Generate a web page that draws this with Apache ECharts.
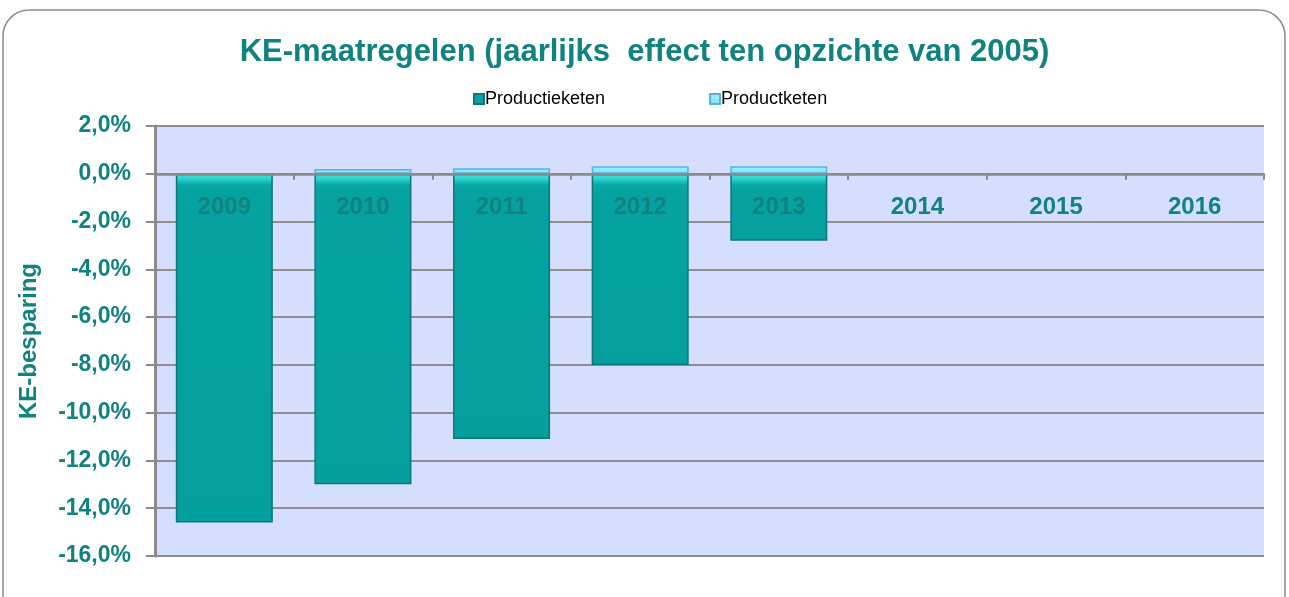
<!DOCTYPE html>
<html>
<head>
<meta charset="utf-8">
<script src="https://cdn.jsdelivr.net/npm/echarts@6/dist/echarts.min.js"></script>
<style>
html,body{margin:0;padding:0;background:#fff;}
#chart{width:1289px;height:597px;}
</style>
</head>
<body>
<div id="chart"></div>
<script>
// ---- data ----
var categories = ['2009', '2010', '2011', '2012', '2013', '2014', '2015', '2016'];
var productieketen = [-14.6, -13.0, -11.1, -8.0, -2.8, null, null, null];
var productketen = [null, 0.2, 0.23, 0.32, 0.32, null, null, null];
var yTicks = { min: -16, max: 2, interval: 2 };
var titleText = 'KE-maatregelen (jaarlijks  effect ten opzichte van 2005)';
var yName = 'KE-besparing';

var TEAL = '#10827F';
var FONT = '"Liberation Sans", Arial, sans-serif';

var GRID = { left: 155, right: 25, top: 126, bottom: 41 };
var plotH = 597 - GRID.top - GRID.bottom;
// distance from bottom of plot to the zero line, via the axis range
var zeroOffset = plotH * (0 - yTicks.min) / (yTicks.max - yTicks.min);

function fmt(v) { return v.toFixed(1).replace('.', ',') + '%'; }

// per-bar bevel gradient (bevel ~0.45% deep)
function bevel(v) {
  if (v == null) return null;
  var f = Math.min(0.45 / Math.abs(v), 0.5);
  return {
    value: v,
    itemStyle: {
      color: {
        type: 'linear', x: 0, y: 0, x2: 0, y2: 1,
        colorStops: [
          { offset: 0, color: '#3FE6E0' },
          { offset: f * 0.5, color: '#2CD2CD' },
          { offset: f, color: '#0BA9A5' },
          { offset: Math.min(f * 1.6, 0.9), color: '#06A29F' },
          { offset: 1, color: '#05A09D' }
        ]
      }
    }
  };
}

var chart = echarts.init(document.getElementById('chart'), null, { renderer: 'canvas' });
chart.setOption({
  animation: false,
  backgroundColor: '#ffffff',
  graphic: [{
    type: 'rect', z: -10, silent: true,
    shape: { x: 3, y: 10, width: 1282, height: 640, r: 26 },
    style: { fill: '#ffffff', stroke: '#8C8C8C', lineWidth: 1.5 }
  }],
  title: {
    text: titleText,
    left: 'center', top: 32,
    textStyle: { fontFamily: FONT, fontWeight: 'bold', fontSize: 31, color: TEAL }
  },
  legend: {
    top: 85, left: 468,
    itemWidth: 10, itemHeight: 10, itemGap: 104,
    icon: 'rect',
    textStyle: { fontFamily: FONT, fontSize: 18, color: '#000', padding: [0, 0, 0, -4] },
    data: ['Productieketen', 'Productketen']
  },
  grid: {
    left: GRID.left, right: GRID.right, top: GRID.top, bottom: GRID.bottom,
    show: true, backgroundColor: '#D5DEFE', borderWidth: 0
  },
  xAxis: {
    type: 'category',
    data: categories,
    z: 10,
    position: 'bottom',
    offset: -zeroOffset,
    axisLine: { onZero: false, lineStyle: { color: '#8A8A8A', width: 2.5 } },
    axisTick: { show: true, length: 6, lineStyle: { color: '#8A8A8A', width: 2 } },
    axisLabel: { margin: 22, fontFamily: FONT, fontWeight: 'bold', fontSize: 24, color: TEAL }
  },
  yAxis: {
    type: 'value',
    min: yTicks.min, max: yTicks.max, interval: yTicks.interval,
    name: yName,
    nameLocation: 'middle',
    nameGap: 114,
    nameTextStyle: { fontFamily: FONT, fontWeight: 'bold', fontSize: 24, color: TEAL },
    axisLine: { show: true, lineStyle: { color: '#8A8A8A', width: 3 } },
    axisTick: { show: true, length: 9, lineStyle: { color: '#8A8A8A', width: 2 } },
    axisLabel: { margin: 24, formatter: fmt, fontFamily: FONT, fontWeight: 'bold', fontSize: 23, color: TEAL },
    splitLine: { show: true, lineStyle: { color: '#8E8E8E', width: 2 } }
  },
  series: [
    {
      name: 'Productieketen',
      type: 'bar',
      barWidth: '70%',
      barGap: '-100%',
      itemStyle: { color: '#08A29F', borderColor: '#0C7775', borderWidth: 1.5 },
      data: productieketen.map(bevel)
    },
    {
      name: 'Productketen',
      type: 'bar',
      barWidth: '70%',
      barGap: '-100%',
      itemStyle: {
        color: {
          type: 'linear', x: 0, y: 0, x2: 0, y2: 1,
          colorStops: [
            { offset: 0, color: '#9DF5FD' },
            { offset: 1, color: '#7FE3F0' }
          ]
        },
        borderColor: '#5BAEE2', borderWidth: 1.5
      },
      data: productketen
    }
  ]
});
</script>
</body>
</html>
